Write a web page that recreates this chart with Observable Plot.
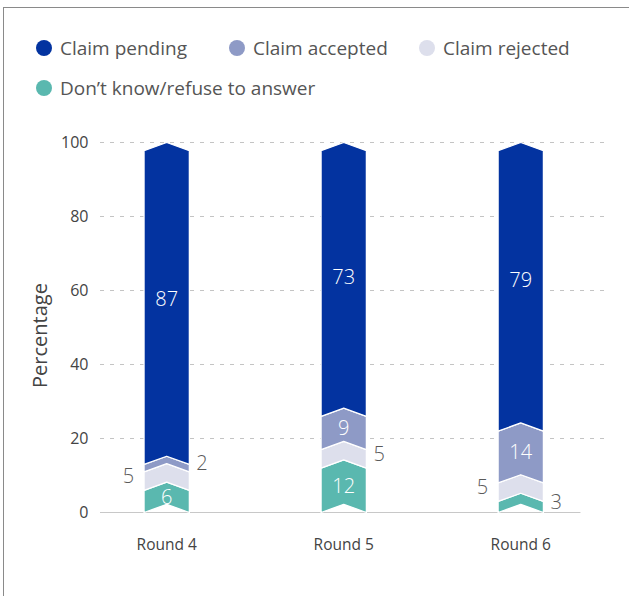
<!DOCTYPE html>
<html>
<head>
<meta charset="utf-8">
<script src="https://cdn.jsdelivr.net/npm/d3@7"></script>
<script src="https://cdn.jsdelivr.net/npm/@observablehq/plot@0.6"></script>
<style>
  html, body { margin: 0; padding: 0; background: #fff; overflow: hidden; }
  body { width: 629px; height: 596px; position: relative; font-family: "Open Sans", sans-serif; }
  #frame { position: absolute; left: 3px; top: 7px; width: 700px; height: 700px;
           border-left: 1.5px solid #8a8a8a; border-top: 1.5px solid #8a8a8a; }
  #legend { position: absolute; left: 36px; top: 36px; width: 580px; display: grid;
            grid-template-columns: 193px 190px auto;
            row-gap: 16px; font-size: 19px; color: #555; line-height: 24px; }
  .item { display: flex; align-items: center; white-space: nowrap; }
  .item.wide { grid-column: 1 / span 3; }
  .dot { width: 16px; height: 16px; border-radius: 50%; margin-right: 8px; }
  #chart { position: absolute; left: 0; top: 110px; }
</style>
</head>
<body>
<div id="frame"></div>
<div id="legend"></div>
<div id="chart"></div>
<script>
const rounds = ["Round 4", "Round 5", "Round 6"];
const legendOrder = ["Claim pending", "Claim accepted", "Claim rejected", "Don’t know/refuse to answer"];
const stackOrder = ["Don’t know/refuse to answer", "Claim rejected", "Claim accepted", "Claim pending"];
const colors = ["#0333a0", "#8e9ac6", "#dddfec", "#5ab8af"];
const pending = [87, 73, 79];
const accepted = [2, 9, 14];
const rejected = [5, 5, 5];
const dontKnow = [6, 12, 3];
const yTicks = [0, 20, 40, 60, 80, 100];

const valuesByCat = {
  "Claim pending": pending,
  "Claim accepted": accepted,
  "Claim rejected": rejected,
  "Don’t know/refuse to answer": dontKnow
};

// side for outside labels (layout)
const outsideSide = {
  "Round 4|Claim rejected": "left",
  "Round 4|Claim accepted": "right",
  "Round 5|Claim rejected": "right",
  "Round 6|Claim rejected": "left",
  "Round 6|Don’t know/refuse to answer": "right"
};

const yMax = 100;
const d = 2.2;      // chevron depth (y units)
const w = 0.128;    // bar half width (x units)

const polys = [];
const inside = [], left = [], right = [];
rounds.forEach((r, i) => {
  let cum = 0;
  stackOrder.forEach((cat, k) => {
    const v = valuesByCat[cat][i];
    const y1 = cum;
    const isTop = k === stackOrder.length - 1;
    const y2 = isTop ? yMax : cum + v;
    cum += v;
    const sideTop = isTop ? y2 - d : y2;
    const peak = isTop ? y2 : y2 + d;
    const id = r + "|" + cat;
    const pts = [
      [i - w, y1], [i, y1 + d], [i + w, y1],
      [i + w, sideTop], [i, peak], [i - w, sideTop], [i - w, y1]
    ];
    pts.forEach(([x, y]) => polys.push({x, y, id, cat}));
    const mid = (y1 + y1 + v) / 2 + d / 2;
    if (v >= 6) {
      inside.push({x: i, y: mid, text: String(v)});
    } else {
      const side = outsideSide[id] || "right";
      if (side === "left") left.push({x: i - w, y: mid, text: String(v)});
      else right.push({x: i + w, y: mid, text: String(v)});
    }
  });
});

// legend
const legend = document.getElementById("legend");
legendOrder.forEach((cat, j) => {
  const it = document.createElement("div");
  it.className = "item" + (j === 3 ? " wide" : "");
  const dot = document.createElement("div");
  dot.className = "dot";
  dot.style.background = colors[j];
  const t = document.createElement("span");
  t.textContent = cat;
  it.appendChild(dot); it.appendChild(t);
  legend.appendChild(it);
});

const chart = Plot.plot({
  width: 629,
  height: 470,
  marginLeft: 100,
  marginRight: 22,
  marginTop: 32,
  marginBottom: 68,
  style: {fontFamily: "Open Sans, sans-serif", background: "transparent"},
  x: {type: "linear", domain: [-0.374, 2.49]},
  y: {domain: [0, 100]},
  color: {domain: legendOrder, range: colors},
  marks: [
    Plot.ruleY(yTicks.filter(t => t > 0), {stroke: "#c4c4c4", strokeWidth: 1, strokeDasharray: "4,6"}),
    Plot.ruleY([0], {x1: -0.374, x2: 2.34, stroke: "#c8c8c8", strokeWidth: 1.2}),
    Plot.line(polys, {x: "x", y: "y", z: "id", fill: "cat", stroke: "white", strokeWidth: 1.3, curve: "linear"}),
    Plot.text(inside, {x: "x", y: "y", text: "text", fill: "white", fontSize: 20, fontWeight: 300}),
    Plot.text(left, {x: "x", y: "y", text: "text", fill: "#5a5a5a", textAnchor: "end", dx: -10, fontSize: 20, fontWeight: 300}),
    Plot.text(right, {x: "x", y: "y", text: "text", fill: "#5a5a5a", textAnchor: "start", dx: 7, fontSize: 20, fontWeight: 300}),
    Plot.axisY({ticks: yTicks, tickSize: 0, tickPadding: 12, fontSize: 16, color: "#444", label: null}),
    Plot.axisX({ticks: [0, 1, 2], tickFormat: i => rounds[i], tickSize: 0, tickPadding: 26, fontSize: 15.5, color: "#444", label: null}),
    Plot.text(["Percentage"], {frameAnchor: "left", textAnchor: "middle", dx: -60, dy: 8, rotate: -90, fontSize: 20, fill: "#444"})
  ]
});
document.getElementById("chart").appendChild(chart);
</script>
</body>
</html>
